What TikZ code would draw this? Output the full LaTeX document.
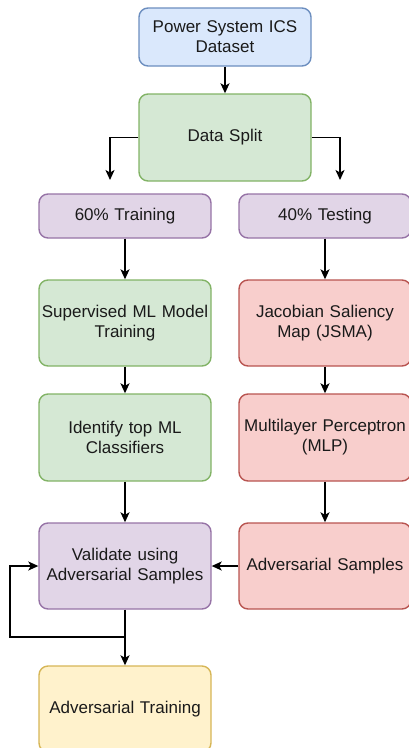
\documentclass[tikz,border=0pt]{standalone}
\usepackage{fontspec}
\setmainfont{Liberation Sans}
\usetikzlibrary{arrows.meta}
\definecolor{bluef}{HTML}{DAE8FC}\definecolor{blued}{HTML}{6C8EBF}
\definecolor{greenf}{HTML}{D5E8D4}\definecolor{greend}{HTML}{82B366}
\definecolor{purpf}{HTML}{E1D5E7}\definecolor{purpd}{HTML}{9673A6}
\definecolor{redf}{HTML}{F8CECC}\definecolor{redd}{HTML}{B85450}
\definecolor{yelf}{HTML}{FFF2CC}\definecolor{yeld}{HTML}{D6B656}
\definecolor{txt}{HTML}{1A1A1A}
\begin{document}
\begin{tikzpicture}[x=1pt,y=1pt,
  box/.style={rectangle, rounded corners=9pt, line width=1.4pt, minimum width=172pt, text width=172pt, align=center, inner sep=0pt, text=txt, font=\fontsize{17}{20}\selectfont},
  bluebox/.style={box, fill=bluef, draw=blued},
  greenbox/.style={box, fill=greenf, draw=greend},
  purpbox/.style={box, fill=purpf, draw=purpd},
  redbox/.style={box, fill=redf, draw=redd},
  yelbox/.style={box, fill=yelf, draw=yeld},
  conn/.style={line width=1.4pt, -{Stealth[length=10pt,width=9pt,inset=2.5pt]}},
  plain/.style={line width=1.4pt}]
\useasboundingbox (0,0) rectangle (409,-748);
\node[bluebox, minimum height=58pt] (ds) at (225,-37) {Power System ICS\\Dataset};
\node[greenbox, minimum height=87pt] (split) at (225,-137.5) {Data Split};
\node[purpbox, minimum height=44pt] (train) at (125,-216) {60\% Training};
\node[purpbox, minimum height=44pt] (test) at (325,-216) {40\% Testing};
\node[greenbox, minimum height=86pt] (sup) at (125,-323) {Supervised ML Model\\Training};
\node[redbox, minimum height=86pt] (jsma) at (325,-323) {Jacobian Saliency\\Map (JSMA)};
\node[greenbox, minimum height=87pt] (topml) at (125,-437.5) {Identify top ML\\Classifiers};
\node[redbox, minimum height=87pt] (mlp) at (325,-437.5) {Multilayer Perceptron\\(MLP)};
\node[purpbox, minimum height=86pt] (val) at (125,-566) {Validate using\\Adversarial Samples};
\node[redbox, minimum height=86pt] (adv) at (325,-566) {Adversarial Samples};
\node[yelbox, minimum height=86pt] (advt) at (125,-709) {Adversarial Training};
\coordinate (lt) at (110,-180);
\coordinate (rt) at (340,-180);
\coordinate (br) at (125,-637);
\coordinate (lp) at (10,-637);
\draw[conn] (ds) -- (split);
\draw[conn] (split.west) -| (lt);
\draw[conn] (split.east) -| (rt);
\draw[conn] (train) -- (sup);
\draw[conn] (sup) -- (topml);
\draw[conn] (topml) -- (val);
\draw[conn] (test) -- (jsma);
\draw[conn] (jsma) -- (mlp);
\draw[conn] (mlp) -- (adv);
\draw[conn] (adv) -- (val);
\draw[conn] (val) -- (advt);
\draw[conn] (br) -- (lp) |- (val.west);
\end{tikzpicture}
\end{document}
